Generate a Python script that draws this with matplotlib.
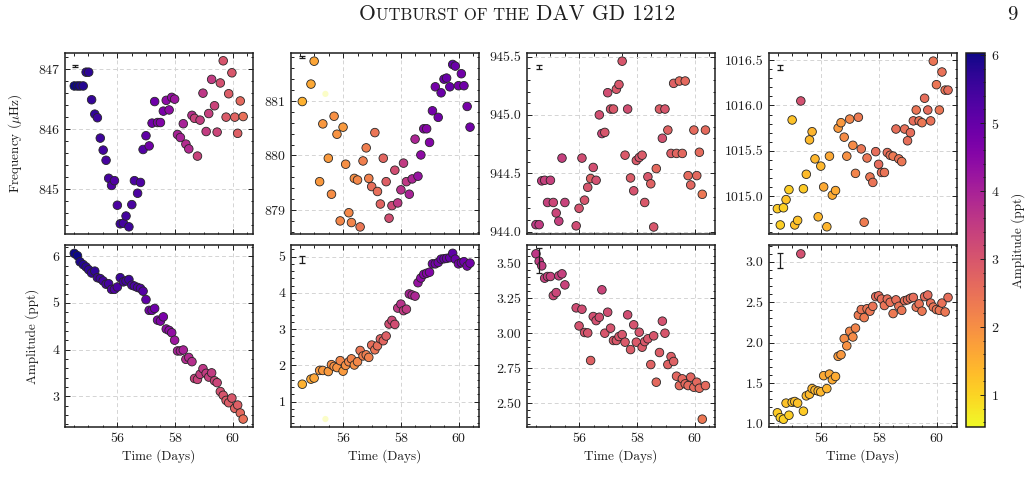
import matplotlib
matplotlib.use('Agg')
import matplotlib.pyplot as plt
from matplotlib.ticker import MultipleLocator, AutoMinorLocator, FormatStrFormatter
from matplotlib import colors

plt.rcParams['font.family'] = ['cmr10', 'DejaVu Serif']
plt.rcParams['mathtext.fontset'] = 'cm'
plt.rcParams['axes.formatter.use_mathtext'] = True

# ---------------- data ----------------
# Mode 1 (~846 uHz)
t1 = [54.52, 54.63, 54.72, 54.83, 54.93, 55.02, 55.12, 55.23, 55.32, 55.42,
      55.52, 55.62, 55.71, 55.81, 55.91, 56.01, 56.11, 56.22, 56.31, 56.41,
      56.51, 56.60, 56.71, 56.81, 56.90, 57.00, 57.11, 57.21, 57.30, 57.40,
      57.50, 57.60, 57.70, 57.80, 57.89, 57.99, 58.09, 58.19, 58.29, 58.38,
      58.48, 58.59, 58.68, 58.78, 58.87, 58.97, 59.08, 59.17, 59.27, 59.37,
      59.46, 59.57, 59.67, 59.77, 59.86, 59.97, 60.07, 60.17, 60.26, 60.36]
f1 = [846.72, 846.72, 846.72, 846.72, 846.95, 846.95, 846.49, 846.25, 846.19, 845.85,
      845.65, 845.48, 845.18, 845.06, 845.14, 844.73, 844.42, 844.43, 844.55, 844.37,
      844.74, 845.14, 844.93, 845.11, 845.66, 845.89, 845.72, 846.10, 846.46, 846.11,
      846.11, 846.30, 846.48, 846.32, 846.53, 846.50, 845.91, 845.86, 846.09, 845.75,
      845.67, 846.23, 846.18, 845.55, 846.15, 846.60, 845.96, 846.26, 846.83, 846.39,
      845.95, 846.77, 847.14, 846.20, 846.59, 846.94, 846.20, 845.93, 846.47, 846.21]
a1 = [6.06, 6.01, 5.88, 5.82, 5.77, 5.71, 5.64, 5.68, 5.54, 5.52,
      5.47, 5.40, 5.41, 5.29, 5.29, 5.34, 5.54, 5.45, 5.47, 5.50,
      5.38, 5.36, 5.33, 5.31, 5.25, 5.07, 4.84, 4.84, 4.88, 4.63,
      4.61, 4.70, 4.44, 4.41, 4.36, 4.20, 3.97, 3.97, 3.99, 3.79,
      3.83, 3.74, 3.38, 3.36, 3.47, 3.59, 3.49, 3.41, 3.50, 3.33,
      3.29, 3.10, 3.02, 2.91, 2.86, 2.96, 2.74, 2.81, 2.64, 2.51]

# Mode 2 (~880 uHz)
t2 = [54.59, 54.89, 55.00, 55.19, 55.30, 55.49, 55.60, 55.69, 55.79, 55.90,
      56.00, 56.09, 56.20, 56.29, 56.39, 56.50, 56.59, 56.69, 56.80, 56.89,
      56.99, 57.10, 57.19, 57.29, 57.39, 57.49, 57.59, 57.69, 57.79, 57.89,
      58.00, 58.09, 58.19, 58.29, 58.39, 58.49, 58.59, 58.69, 58.79, 58.89,
      58.99, 59.09, 59.19, 59.29, 59.39, 59.49, 59.58, 59.69, 59.79, 59.88,
      59.99, 60.09, 60.18, 60.29, 60.39]
f2 = [880.99, 881.31, 881.73, 879.52, 880.58, 879.95, 879.29, 880.72, 880.39, 878.80,
      880.52, 879.84, 878.95, 878.77, 879.58, 879.55, 878.69, 879.90, 880.14, 879.58,
      879.43, 880.42, 879.34, 879.11, 879.95, 879.52, 878.85, 879.08, 879.73, 879.13,
      879.37, 879.86, 879.52, 879.29, 879.57, 880.30, 879.62, 880.01, 880.49, 880.49,
      880.24, 880.82, 881.26, 880.70, 881.15, 881.40, 881.42, 881.26, 881.67, 881.64,
      881.28, 881.50, 881.28, 880.90, 880.52]
a2 = [1.48, 1.62, 1.65, 1.86, 1.86, 1.83, 2.02, 1.97, 1.94, 2.13,
      1.84, 2.00, 2.10, 2.18, 2.01, 2.10, 2.41, 2.26, 2.29, 2.22,
      2.56, 2.43, 2.54, 2.73, 2.68, 2.81, 3.14, 3.24, 3.13, 3.58,
      3.69, 3.51, 3.55, 3.97, 3.94, 3.91, 4.28, 4.41, 4.51, 4.54,
      4.57, 4.80, 4.80, 4.84, 4.93, 4.94, 4.95, 4.97, 5.09, 4.93,
      4.80, 4.83, 4.86, 4.74, 4.82]
# faint (low-significance) point of mode 2
t2_faint = [55.39]
f2_faint = [881.13]
a2_faint = [0.52]

# Mode 3 (~944.7 uHz)
t3 = [54.51, 54.62, 54.71, 54.81, 54.91, 55.01, 55.11, 55.21, 55.30, 55.41,
      55.51, 55.90, 56.00, 56.10, 56.19, 56.30, 56.40, 56.49, 56.59, 56.70,
      56.79, 56.89, 56.99, 57.09, 57.19, 57.29, 57.38, 57.49, 57.59, 57.68,
      57.78, 57.89, 57.98, 58.08, 58.18, 58.27, 58.38, 58.48, 58.58, 58.67,
      58.78, 58.88, 58.97, 59.07, 59.18, 59.27, 59.37, 59.47, 59.57, 59.67,
      59.77, 59.86, 59.97, 60.07, 60.16, 60.26, 60.37]
f3 = [944.06, 944.06, 944.435, 944.44, 944.25, 944.44, 944.25, 944.16, 944.09, 944.63,
      944.25, 944.05, 944.20, 944.63, 944.27, 944.38, 944.455, 944.55, 944.44, 945.00,
      944.84, 944.85, 945.19, 945.05, 945.05, 945.22, 945.26, 945.46, 944.655, 945.05,
      944.46, 944.35, 944.61, 944.635, 944.655, 944.25, 944.47, 944.41, 944.04, 944.54,
      945.05, 944.80, 945.05, 944.87, 944.67, 945.27, 944.67, 945.29, 944.67, 945.29,
      944.48, 944.40, 944.87, 944.48, 944.68, 944.32, 944.87]
a3 = [3.567, 3.514, 3.481, 3.393, 3.405, 3.405, 3.269, 3.290, 3.410, 3.424,
      3.345, 3.181, 3.052, 3.171, 3.005, 3.002, 2.805, 3.119, 3.090, 3.114,
      3.310, 3.000, 3.150, 3.036, 2.948, 2.948, 2.976, 2.990, 2.936, 3.131,
      2.883, 3.060, 2.936, 3.007, 2.900, 2.940, 2.960, 2.776, 2.981, 2.650,
      2.862, 3.086, 3.000, 2.776, 2.833, 2.798, 2.693, 2.626, 2.674, 2.638,
      2.626, 2.686, 2.614, 2.650, 2.607, 2.386, 2.626]

# Mode 4 (~1015.5 uHz)
t4 = [54.49, 54.59, 54.70, 54.79, 54.89, 55.00, 55.09, 55.19, 55.30, 55.39,
      55.49, 55.60, 55.69, 55.79, 55.90, 55.99, 56.09, 56.20, 56.29, 56.39,
      56.50, 56.59, 56.69, 56.80, 56.89, 56.99, 57.10, 57.19, 57.29, 57.39,
      57.49, 57.59, 57.69, 57.79, 57.89, 57.99, 58.09, 58.19, 58.29, 58.39,
      58.49, 58.59, 58.69, 58.79, 58.89, 58.99, 59.09, 59.19, 59.29, 59.39,
      59.49, 59.58, 59.69, 59.79, 59.88, 59.99, 60.09, 60.18, 60.29, 60.39]
f4 = [1014.86, 1014.68, 1014.87, 1014.96, 1015.07, 1015.84, 1014.68, 1014.73, 1016.05, 1015.08,
      1015.24, 1015.62, 1015.71, 1015.41, 1014.77, 1015.33, 1015.10, 1014.66, 1015.44, 1015.01,
      1015.06, 1015.75, 1015.81, 1015.65, 1015.44, 1015.85, 1015.56, 1015.25, 1015.87, 1015.52,
      1014.71, 1015.42, 1015.21, 1015.15, 1015.49, 1015.35, 1015.26, 1015.26, 1015.48, 1015.45,
      1015.44, 1015.74, 1015.41, 1015.38, 1015.74, 1015.61, 1015.70, 1015.83, 1015.95, 1015.83,
      1015.81, 1016.08, 1015.95, 1015.83, 1016.49, 1016.23, 1015.95, 1016.37, 1016.17, 1016.17]
a4 = [1.13, 1.07, 1.05, 1.25, 1.10, 1.26, 1.27, 1.25, 3.10, 1.15,
      1.34, 1.36, 1.43, 1.41, 1.40, 1.39, 1.59, 1.43, 1.61, 1.54,
      1.58, 1.83, 1.85, 2.05, 1.96, 2.14, 2.07, 2.18, 2.34, 2.41,
      2.31, 2.42, 2.39, 2.45, 2.57, 2.58, 2.54, 2.46, 2.54, 2.50,
      2.36, 2.53, 2.45, 2.40, 2.52, 2.53, 2.55, 2.56, 2.44, 2.48,
      2.39, 2.57, 2.59, 2.49, 2.44, 2.41, 2.40, 2.49, 2.38, 2.56]

# representative error bars (x, y, yerr) per panel
err_freq = [(54.55, 847.05, 0.012), (54.59, 881.80, 0.02), (54.63, 945.41, 0.02), (54.58, 1016.42, 0.024)]
err_amp = [(54.55, 6.05, 0.03), (54.59, 4.92, 0.105), (54.62, 3.52, 0.088), (54.58, 3.02, 0.09)]

freq_ylims = [(844.25, 847.27), (878.56, 881.88), (943.98, 945.53), (1014.58, 1016.58)]
amp_ylims = [(2.34, 6.24), (0.30, 5.32), (2.33, 3.63), (0.954, 3.21)]
freq_steps = [1.0, 1.0, 0.5, 0.5]
amp_steps = [1.0, 1.0, 0.25, 0.5]
freq_fmt = ['%d', '%d', '%.1f', '%.1f']
amp_fmt = ['%d', '%d', '%.2f', '%.1f']
xlim = (54.2, 60.7)

# ---------------- figure ----------------
W, H = 1033, 491
fig = plt.figure(figsize=(W / 100, H / 100), dpi=100)
lefts = [65, 291, 527, 769]
width = 188
rows = [(53, 234), (245, 427)]

norm = colors.Normalize(vmin=0.53, vmax=6.03)
cmap = plt.get_cmap('plasma_r')
INK = '#1e1e1e'
TICK_FS = 10
LABEL_FS = 9.5

modes = [(t1, f1, a1), (t2, f2, a2), (t3, f3, a3), (t4, f4, a4)]


def style_axis(ax, ystep, fmt, ylim, show_xlabels):
    ax.set_xlim(*xlim)
    ax.set_ylim(*ylim)
    ax.xaxis.set_major_locator(MultipleLocator(2))
    ax.xaxis.set_minor_locator(AutoMinorLocator(4))
    ax.yaxis.set_major_locator(MultipleLocator(ystep))
    ax.yaxis.set_minor_locator(AutoMinorLocator(5))
    ax.yaxis.set_major_formatter(FormatStrFormatter(fmt))
    ax.xaxis.set_major_formatter(FormatStrFormatter('%d'))
    ax.tick_params(which='both', direction='in', top=True, right=True,
                   labelsize=TICK_FS, width=0.7, color=INK, labelcolor=INK)
    ax.tick_params(which='major', length=3.5, pad=4)
    ax.tick_params(which='minor', length=1.8)
    if not show_xlabels:
        ax.tick_params(labelbottom=False)
    ax.grid(True, which='major', linestyle=(0, (4, 3)), linewidth=0.7, color='#d4d4d4')
    ax.set_axisbelow(True)
    for sp in ax.spines.values():
        sp.set_linewidth(1.1)
        sp.set_color(INK)


for i, (t, f, a) in enumerate(modes):
    l = lefts[i]
    axf = fig.add_axes([l / W, 1 - rows[0][1] / H, width / W, (rows[0][1] - rows[0][0]) / H])
    axa = fig.add_axes([l / W, 1 - rows[1][1] / H, width / W, (rows[1][1] - rows[1][0]) / H])
    style_axis(axf, freq_steps[i], freq_fmt[i], freq_ylims[i], False)
    style_axis(axa, amp_steps[i], amp_fmt[i], amp_ylims[i], True)

    for ax, y in ((axf, f), (axa, a)):
        ax.scatter(t, y, c=a, cmap=cmap, norm=norm, s=38, edgecolors='#262626',
                   linewidths=0.6, zorder=3)

    if i == 1:
        faint = cmap(norm(a2_faint[0]))
        axf.scatter(t2_faint, f2_faint, color=faint, alpha=0.25, s=20,
                    edgecolors='none', zorder=2)
        axa.scatter(t2_faint, a2_faint, color=faint, alpha=0.25, s=20,
                    edgecolors='none', zorder=2)

    ex, ey, ee = err_freq[i]
    axf.errorbar([ex], [ey], yerr=[ee], fmt='none', ecolor=INK, elinewidth=0.9,
                 capsize=2.4, capthick=0.9, zorder=4)
    ex, ey, ee = err_amp[i]
    axa.errorbar([ex], [ey], yerr=[ee], fmt='none', ecolor=INK, elinewidth=0.9,
                 capsize=2.4, capthick=0.9, zorder=4 if i > 0 else 2)

    axa.set_xlabel('Time (Days)', fontsize=LABEL_FS, color=INK, labelpad=3)
    if i == 0:
        axf.set_ylabel(r'Frequency ($\mu$Hz)', fontsize=LABEL_FS, color=INK)
        axf.yaxis.set_label_coords((24 - 65) / width, 0.5)
        axa.set_ylabel('Amplitude (ppt)', fontsize=LABEL_FS, color=INK)
        axa.yaxis.set_label_coords((39 - 65) / width, 0.5)

# colorbar
cax = fig.add_axes([966 / W, 1 - 427 / H, 19 / W, (427 - 53) / H])
sm = plt.cm.ScalarMappable(norm=norm, cmap=cmap)
cb = fig.colorbar(sm, cax=cax)
cb.set_ticks([1, 2, 3, 4, 5, 6])
cb.ax.yaxis.set_minor_locator(AutoMinorLocator(5))
cb.ax.tick_params(which='both', direction='in', labelsize=TICK_FS, width=0.7,
                  color=INK, labelcolor=INK)
cb.ax.tick_params(which='major', length=3.5, pad=4)
cb.ax.tick_params(which='minor', length=1.8)
cb.outline.set_linewidth(1.1)
cb.outline.set_edgecolor(INK)
cb.set_label('Amplitude (ppt)', fontsize=LABEL_FS, color=INK)
cb.ax.yaxis.set_label_coords((1011 - 966) / 19, 0.5)

# page header (small caps emulation)
renderer = fig.canvas.get_renderer()
pieces = [('O', 15.5), ('UTBURST OF THE', 12), (' DAV GD 1212', 15.5)]
base_y = 1 - 20 / H
texts = []
for s, fs in pieces:
    tx = fig.text(0, base_y, s, fontsize=fs, va='baseline', ha='left', color=INK)
    texts.append(tx)
widths = [tx.get_window_extent(renderer).width for tx in texts]
total = sum(widths)
x0 = 517 - total / 2
for tx, w in zip(texts, widths):
    tx.set_x(x0 / W)
    x0 += w
fig.text(1012 / W, base_y, '9', fontsize=15, va='baseline', ha='center', color=INK)

fig.savefig('out.png', dpi=100)
